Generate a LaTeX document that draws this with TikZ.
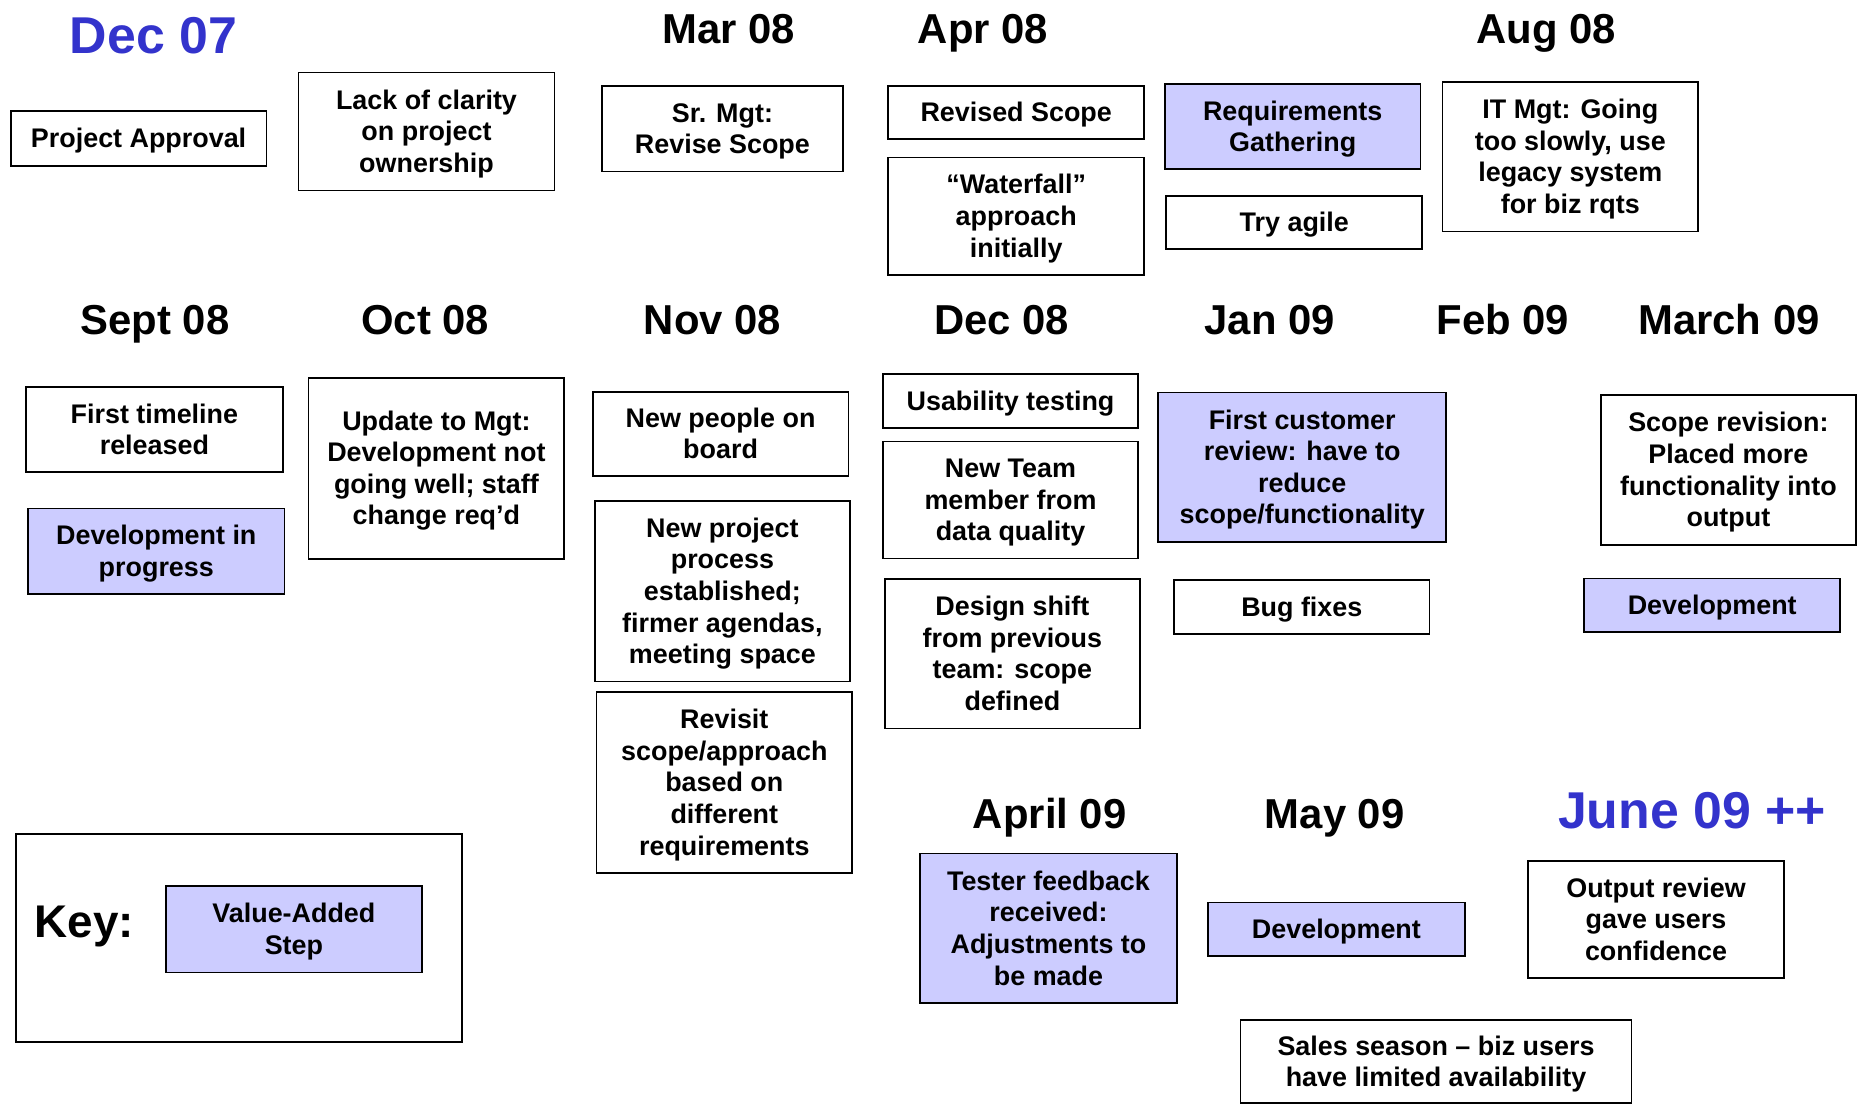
\documentclass[tikz,border=0pt]{standalone}
\usepackage{fontspec}
\setmainfont{Liberation Sans}
\definecolor{valuefill}{RGB}{204,204,255}
\definecolor{titleblue}{RGB}{51,51,204}
% box text with a fixed first-line height and last-line depth, so that every
% block is centred the same way whatever letters it starts and ends with
\newcommand\bt[1]{\rule{0pt}{24.5pt}#1\rule[-5.8pt]{0pt}{5.8pt}}
\begin{document}
\begin{tikzpicture}[x=1bp,y=-1bp,
  box/.style={draw=black, line width=1.8bp, inner sep=0pt, align=center,
    font=\bfseries\fontsize{27}{31.7}\selectfont},
  valuebox/.style={box, fill=valuefill},
  month/.style={anchor=base, inner sep=0pt, font=\bfseries\fontsize{42}{46}\selectfont},
  bluemonth/.style={anchor=base, inner sep=0pt, text=titleblue, font=\bfseries\fontsize{52}{56}\selectfont}]
\useasboundingbox (0,0) rectangle (1858,1105);

% month headings
\node[bluemonth] (tdec07) at (153.5,53.3) {Dec 07};
\node[month] (tmar08) at (728.9,43.3) {Mar 08};
\node[month] (tapr08) at (983,43.3) {Apr 08};
\node[month] (taug08) at (1546.5,43.3) {Aug 08};
\node[month] (tsep08) at (155,334.5) {Sept 08};
\node[month] (toct08) at (425.3,334.5) {Oct 08};
\node[month] (tnov08) at (712.6,334.5) {Nov 08};
\node[month] (tdec08) at (1001.5,334.5) {Dec 08};
\node[month] (tjan09) at (1269.7,334.5) {Jan 09};
\node[month] (tfeb09) at (1502.9,334.5) {Feb 09};
\node[month] (tmarch09) at (1729,334.5) {March 09};
\node[month] (tapril09) at (1049.7,828) {April 09};
\node[month] (tmay09) at (1334.7,828) {May 09};
\node[bluemonth] (tjun09) at (1692,828.3) {June 09 ++};

% events
\node[box, minimum width=256.7, minimum height=54.7] (pa) at (138.6,138.4) {\bt{Project Approval}};
\node[box, minimum width=257, minimum height=118.4] (lack) at (426.5,131.5) {\bt{Lack of clarity\\on project\\ownership}};
\node[box, minimum width=241.3, minimum height=85.7] (srmgt) at (722.4,128.8) {\bt{Sr. Mgt:\\Revise Scope}};
\node[box, minimum width=257.1, minimum height=53.6] (revscope) at (1016.2,112.5) {\bt{Revised Scope}};
\node[box, minimum width=257.1, minimum height=117.7] (waterfall) at (1016.2,216.2) {\bt{“Waterfall”\\approach\\initially}};
\node[valuebox, minimum width=256.6, minimum height=85.3] (reqg) at (1292.7,126.7) {\bt{Requirements\\Gathering}};
\node[box, minimum width=256.9, minimum height=53.3] (agile) at (1294.3,222.4) {\bt{Try agile}};
\node[box, minimum width=256.6, minimum height=150] (itmgt) at (1570.3,156.7) {\bt{IT Mgt: Going\\too slowly, use\\legacy system\\for biz rqts}};

\node[box, minimum width=257.6, minimum height=85.6] (ftl) at (154.4,429.5) {\bt{First timeline\\released}};
\node[valuebox, minimum width=257.4, minimum height=86] (devprog) at (156.3,551.3) {\bt{Development in\\progress}};
\node[box, minimum width=256.8, minimum height=182] (upd) at (436.4,468.3) {\bt{Update to Mgt:\\Development not\\going well; staff\\change req’d}};
\node[box, minimum width=256.8, minimum height=84.6] (newpeople) at (720.6,433.8) {\bt{New people on\\board}};
\node[box, minimum width=256.3, minimum height=181.1] (newproc) at (722.4,591.2) {\bt{New project\\process\\established;\\firmer agendas,\\meeting space}};
\node[box, minimum width=256.5, minimum height=181.1] (revisit) at (724.3,782.6) {\bt{Revisit\\scope/approach\\based on\\different\\requirements}};
\node[box, minimum width=256.4, minimum height=54.2] (usab) at (1010.5,401.2) {\bt{Usability testing}};
\node[box, minimum width=256.4, minimum height=117.5] (newteam) at (1010.5,500) {\bt{New Team\\member from\\data quality}};
\node[box, minimum width=256.4, minimum height=150.3] (design) at (1012.4,653.7) {\bt{Design shift\\from previous\\team: scope\\defined}};
\node[valuebox, minimum width=289, minimum height=150] (firstcust) at (1302.2,467.3) {\bt{First customer\\review: have to\\reduce\\scope/functionality}};
\node[box, minimum width=256.5, minimum height=54] (bug) at (1301.8,607) {\bt{Bug fixes}};
\node[box, minimum width=256.4, minimum height=150] (scoperev) at (1728.4,470) {\bt{Scope revision:\\Placed more\\functionality into\\output}};
\node[valuebox, minimum width=257.3, minimum height=54] (devmar) at (1712.2,605.3) {\bt{Development}};

\node[valuebox, minimum width=257.9, minimum height=150] (tester) at (1048.5,928.3) {\bt{Tester feedback\\received:\\Adjustments to\\be made}};
\node[valuebox, minimum width=257.7, minimum height=53.7] (devmay) at (1336.4,929.2) {\bt{Development}};
\node[box, minimum width=257.3, minimum height=117.6] (output) at (1656,919.5) {\bt{Output review\\gave users\\confidence}};
\node[box, minimum width=392.3, minimum height=83] (sales) at (1436,1061.5) {\bt{Sales season – biz users\\have limited availability}};

% legend
\node[draw=black, line width=1.8bp, minimum width=447.7, minimum height=209, inner sep=0pt] (keybox) at (239.2,937.8) {};
\node[anchor=base west, inner sep=0pt, font=\bfseries\fontsize{46}{50}\selectfont] (keylabel) at (34.4,937.3) {Key:};
\node[valuebox, minimum width=257.2, minimum height=86.7] (vas) at (293.9,929.3) {\bt{Value-Added\\Step}};
\end{tikzpicture}
\end{document}
